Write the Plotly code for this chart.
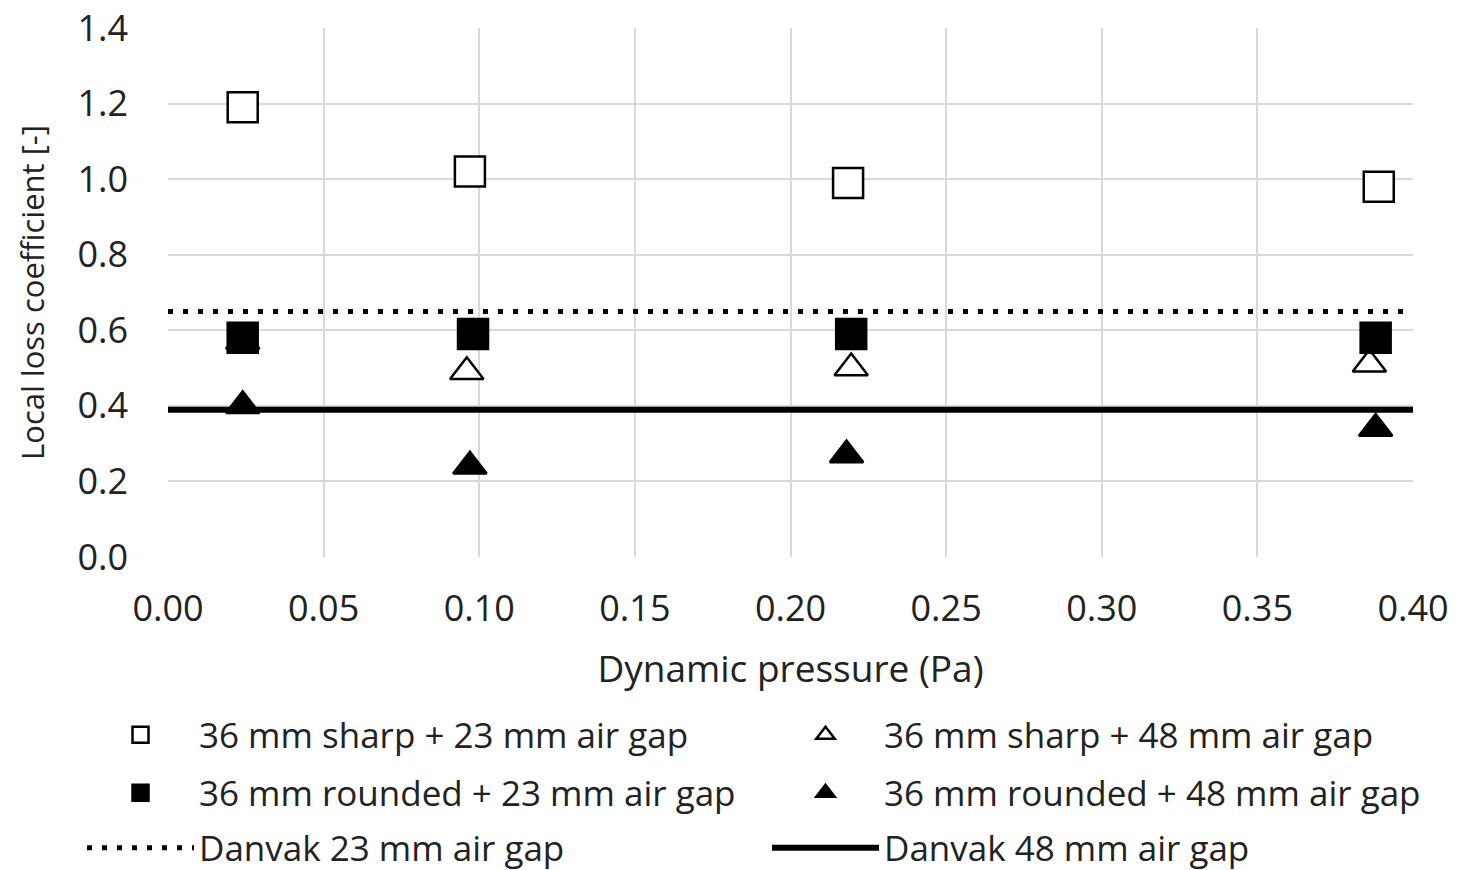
import plotly.graph_objects as go

# Data
x_sharp23 = [0.024, 0.097, 0.2185, 0.389]
y_sharp23 = [1.19, 1.02, 0.99, 0.98]
x_round23 = [0.024, 0.098, 0.2195, 0.388]
y_round23 = [0.58, 0.59, 0.59, 0.58]
x_sharp48 = [0.024, 0.096, 0.2195, 0.386]
y_sharp48 = [0.57, 0.49, 0.50, 0.51]
x_round48 = [0.024, 0.097, 0.218, 0.388]
y_round48 = [0.40, 0.24, 0.27, 0.34]
danvak_x = [0.0, 0.40]
danvak23 = [0.65, 0.65]
danvak48 = [0.39, 0.39]

x_ticks = [0, 0.05, 0.10, 0.15, 0.20, 0.25, 0.30, 0.35, 0.40]
y_ticks = [0, 0.2, 0.4, 0.6, 0.8, 1.0, 1.2, 1.4]

names = ["36 mm sharp + 23 mm air gap", "36 mm sharp + 48 mm air gap",
         "36 mm rounded + 23 mm air gap", "36 mm rounded + 48 mm air gap",
         "Danvak 23 mm air gap", "Danvak 48 mm air gap"]

FONT = "Open Sans"
TXT = "#222222"

fig = go.Figure()
fig.add_trace(go.Scatter(x=danvak_x, y=danvak23, mode="lines", name=names[4], legend="legend3",
                         line=dict(color="black", width=5, dash="5px,10px")))
fig.add_trace(go.Scatter(x=danvak_x, y=danvak48, mode="lines", name=names[5], legend="legend3",
                         line=dict(color="black", width=6)))
fig.add_trace(go.Scatter(x=x_sharp23, y=y_sharp23, mode="markers", name=names[0], legend="legend",
                         marker=dict(symbol="square", size=30, color="white",
                                     line=dict(color="black", width=2.5))))
fig.add_trace(go.Scatter(x=x_sharp48, y=y_sharp48, mode="markers", name=names[1], legend="legend",
                         marker=dict(symbol="triangle-up", size=29, color="white",
                                     line=dict(color="black", width=2.5))))
fig.add_trace(go.Scatter(x=x_round23, y=y_round23, mode="markers", name=names[2], legend="legend2",
                         marker=dict(symbol="square", size=30, color="black",
                                     line=dict(color="black", width=2.5))))
fig.add_trace(go.Scatter(x=x_round48, y=y_round48, mode="markers", name=names[3], legend="legend2",
                         marker=dict(symbol="triangle-up", size=29, color="black",
                                     line=dict(color="black", width=2.5))))

W, H = 1459, 870
ML, MR, MT, MB = 168, 46, 28, 313
plot_h = H - MT - MB
plot_w = W - ML - MR


def py(screen_y):
    return (H - MB - screen_y) / plot_h


def px(screen_x):
    return (screen_x - ML) / plot_w


leg_common = dict(orientation="h", xref="paper", yref="paper", xanchor="left",
                  yanchor="middle", entrywidth=563, entrywidthmode="pixels", itemwidth=107,
                  font=dict(family=FONT, size=35, color=TXT), bgcolor="rgba(0,0,0,0)",
                  traceorder="normal", itemsizing="trace")
LX = px(82)

fig.update_layout(
    width=W, height=H,
    paper_bgcolor="white", plot_bgcolor="white",
    margin=dict(l=ML, r=MR, t=MT, b=MB, autoexpand=False),
    font=dict(family=FONT, color=TXT),
    xaxis=dict(range=[0, 0.40], tickvals=x_ticks,
               tickformat=".2f", showgrid=True, gridcolor="#d9d9d9", gridwidth=2,
               zeroline=False, showline=False, ticks="", ticklabelstandoff=27,
               ticklabeloverflow="allow",
               tickfont=dict(family=FONT, size=36, color=TXT),
               title=dict(text="Dynamic pressure (Pa)", font=dict(family=FONT, size=37, color=TXT),
                          standoff=25)),
    yaxis=dict(range=[0, 1.4], tickvals=y_ticks,
               tickformat=".1f", showgrid=True, gridcolor="#d9d9d9", gridwidth=2,
               zeroline=False, showline=False, ticks="", ticklabelstandoff=39,
               ticklabeloverflow="allow",
               tickfont=dict(family=FONT, size=36, color=TXT),
               title=dict(text="Local loss coefficient [-]", font=dict(family=FONT, size=31, color=TXT),
                          standoff=23)),
    legend=dict(x=LX, y=py(735), **leg_common),
    legend2=dict(x=LX, y=py(793), **leg_common),
    legend3=dict(x=LX, y=py(848), **leg_common),
)

fig.write_html("out.html", config={"displayModeBar": False},
               post_script="document.body.style.margin='0';document.body.style.overflow='hidden';")
